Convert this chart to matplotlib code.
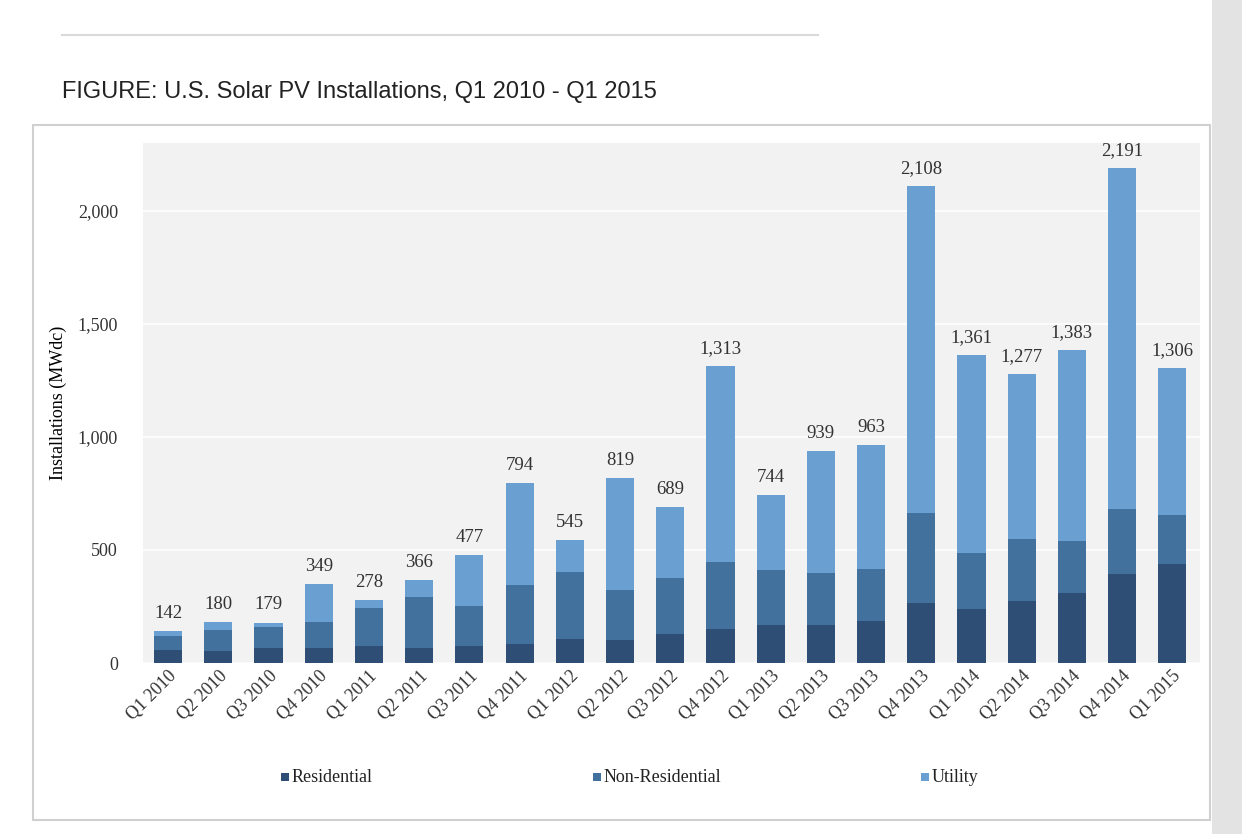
import numpy as np
import matplotlib.pyplot as plt
from matplotlib.patches import Rectangle
from matplotlib.lines import Line2D

quarters = ["Q1 2010", "Q2 2010", "Q3 2010", "Q4 2010", "Q1 2011", "Q2 2011", "Q3 2011",
            "Q4 2011", "Q1 2012", "Q2 2012", "Q3 2012", "Q4 2012", "Q1 2013", "Q2 2013",
            "Q3 2013", "Q4 2013", "Q1 2014", "Q2 2014", "Q3 2014", "Q4 2014", "Q1 2015"]
totals = [142, 180, 179, 349, 278, 366, 477, 794, 545, 819, 689, 1313, 744, 939, 963,
          2108, 1361, 1277, 1383, 2191, 1306]
residential = [57, 53, 66, 66, 75, 66, 75, 84, 106, 102, 128, 150, 168, 168, 186,
               265, 239, 274, 310, 394, 438]
non_residential = [63, 93, 94, 115, 168, 226, 177, 261, 297, 221, 248, 297, 244, 230, 230,
                   399, 248, 275, 230, 287, 217]
utility = [t - r - n for t, r, n in zip(totals, residential, non_residential)]

c_res, c_non, c_util = "#2f4e75", "#41719c", "#6a9fd2"
serif = "Liberation Serif"

fig = plt.figure(figsize=(12.42, 8.34), dpi=100)
fig.patch.set_facecolor("white")
# gray strip on the right and chart frame
fig.patches.append(Rectangle((1212 / 1242, 0), 30 / 1242, 1, transform=fig.transFigure,
                             facecolor="#e3e3e3", edgecolor="none", zorder=-5))
fig.patches.append(Rectangle((33 / 1242, 14 / 834), (1210 - 33) / 1242, (709 - 14) / 834,
                             transform=fig.transFigure, facecolor="white",
                             edgecolor="#d0d0d0", lw=1.5, zorder=-4))
fig.lines.append(Line2D([62 / 1242, 818 / 1242], [1 - 35 / 834] * 2,
                        transform=fig.transFigure, color="#d9d9d9", lw=1.5))
fig.text(62 / 1242, 1 - 92 / 834, "FIGURE: U.S. Solar PV Installations, Q1 2010 - Q1 2015",
         fontsize=17, family="Liberation Sans", color="#222222", va="center")

ax = fig.add_axes([143 / 1242, 171 / 834, (1200 - 143) / 1242, (663 - 143) / 834])
ax.set_facecolor("#f2f2f2")
x = np.arange(len(quarters))
w = 0.56
ax.bar(x, residential, w, color=c_res, zorder=3)
ax.bar(x, non_residential, w, bottom=residential, color=c_non, zorder=3)
ax.bar(x, utility, w, bottom=np.array(residential) + np.array(non_residential),
       color=c_util, zorder=3)
for xi, t in zip(x, totals):
    ax.text(xi, t + 40, f"{t:,}", ha="center", va="bottom", fontsize=13.5,
            family=serif, color="#333333")

ax.set_xlim(-0.5, 20.55)
ax.set_ylim(0, 2300)
ax.set_yticks([0, 500, 1000, 1500, 2000])
ax.set_yticklabels(["0", "500", "1,000", "1,500", "2,000"], family=serif, fontsize=13)
ax.yaxis.grid(True, color="white", lw=1.2, zorder=0)
ax.set_xticks(x)
ax.set_xticklabels(quarters, rotation=45, ha="right", rotation_mode="anchor",
                   family=serif, fontsize=13)
ax.tick_params(length=0, colors="#333333")
ax.tick_params(axis="y", pad=18)
for s in ax.spines.values():
    s.set_visible(False)
ax.set_ylabel("Installations (MWdc)", family=serif, fontsize=13, labelpad=8)

for xp, col, lab in [(285, c_res, "Residential"), (597, c_non, "Non-Residential"),
                     (925, c_util, "Utility")]:
    fig.patches.append(Rectangle(((xp - 4) / 1242, (834 - 781) / 834), 8 / 1242, 8 / 834,
                                 transform=fig.transFigure, facecolor=col, edgecolor="none"))
    fig.text((xp + 7) / 1242, (834 - 777) / 834, lab, family=serif, fontsize=13,
             va="center", color="#222222")

fig.savefig("out.png", dpi=100)
